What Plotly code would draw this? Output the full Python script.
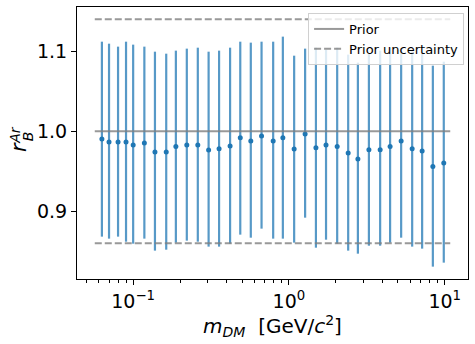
import plotly.graph_objects as go
import numpy as np

# masses (GeV/c^2)
m_dm = [0.063, 0.070, 0.080, 0.090, 0.100, 0.118, 0.138, 0.163, 0.188, 0.221,
        0.260, 0.305, 0.356, 0.419, 0.487, 0.569, 0.667, 0.792, 0.914, 1.08,
        1.27, 1.49, 1.73, 2.04, 2.40, 2.77, 3.26, 3.85, 4.46, 5.25,
        6.18, 7.16, 8.39, 9.86]
# central values of r_B^Ar
r_val = [0.9905, 0.9867, 0.9867, 0.9867, 0.9830, 0.9855, 0.9742, 0.9742, 0.9810, 0.9830,
         0.9830, 0.9767, 0.9784, 0.9817, 0.9921, 0.9880, 0.9942, 0.9880, 0.9921, 0.9780,
         0.9967, 0.9796, 0.9830, 0.9810, 0.9730, 0.9655, 0.9770, 0.9770, 0.9810, 0.9880,
         0.9784, 0.9755, 0.9560, 0.9605]
# upper and lower edges of the error bars
r_hi = [1.1121, 1.1096, 1.1059, 1.1121, 1.1084, 1.1059, 1.0996, 1.0971, 1.1009, 1.1034,
        1.1046, 1.0996, 1.1009, 1.1046, 1.1121, 1.1109, 1.1121, 1.1121, 1.1184, 1.0946,
        1.1034, 1.1046, 1.1021, 1.1046, 1.0959, 1.0859, 1.0971, 1.1009, 1.1046, 1.1034,
        1.0996, 1.0996, 1.0821, 1.0871]
r_lo = [0.8684, 0.8659, 0.8684, 0.8621, 0.8596, 0.8659, 0.8509, 0.8521, 0.8609, 0.8634,
        0.8621, 0.8559, 0.8559, 0.8596, 0.8709, 0.8671, 0.8784, 0.8659, 0.8659, 0.8609,
        0.8921, 0.8546, 0.8646, 0.8596, 0.8509, 0.8471, 0.8571, 0.8571, 0.8609, 0.8671,
        0.8559, 0.8534, 0.8309, 0.8359]

prior = 1.0
prior_unc = 0.14

x_ticks = [0.1, 1, 10]
x_ticktext = ["10<sup>\u22121</sup>", "10<sup>0</sup>", "10<sup>1</sup>"]
y_ticks = [0.9, 1.0, 1.1]
y_ticktext = ["0.9", "1.0", "1.1"]

r_val = np.array(r_val)
err_plus = np.array(r_hi) - r_val
err_minus = r_val - np.array(r_lo)

x_line = [0.9 * m_dm[0], 1.1 * m_dm[-1]]

lx0, lx1 = np.log10(x_line[0]), np.log10(x_line[1])
pad = 0.05 * (lx1 - lx0)
xr = [lx0 - pad, lx1 + pad]
ymin, ymax = min(r_lo), prior + prior_unc
ypad = 0.05 * (ymax - ymin)
yr = [ymin - ypad, ymax + ypad]

minor_vals = [v * d for d in (0.01, 0.1, 1) for v in range(2, 10)] + [20]

fig = go.Figure()
fig.add_trace(go.Scatter(
    x=m_dm, y=r_val, mode="markers",
    marker=dict(color="#1f77b4", size=5),
    error_y=dict(type="data", symmetric=False, array=err_plus, arrayminus=err_minus,
                 color="rgba(31,119,180,0.75)", thickness=2.2, width=0),
    showlegend=False))
fig.add_trace(go.Scatter(
    x=x_line, y=[prior, prior], mode="lines",
    line=dict(color="rgba(128,128,128,0.8)", width=2), name="Prior"))
fig.add_trace(go.Scatter(
    x=x_line, y=[prior + prior_unc] * 2, mode="lines",
    line=dict(color="rgba(128,128,128,0.8)", width=2, dash="7px,3px"), name="Prior uncertainty"))
fig.add_trace(go.Scatter(
    x=x_line, y=[prior - prior_unc] * 2, mode="lines",
    line=dict(color="rgba(128,128,128,0.8)", width=2, dash="7px,3px"), showlegend=False))

font = "DejaVu Sans"
fig.update_layout(
    width=475, height=344,
    margin=dict(l=77, r=7, t=7, b=65),
    paper_bgcolor="white", plot_bgcolor="white",
    font=dict(family=font, color="black", size=16),
    legend=dict(x=0.99, y=0.978, xanchor="right", yanchor="top",
                bgcolor="rgba(255,255,255,0.8)", bordercolor="#d0d0d0", borderwidth=1,
                font=dict(size=13, family=font), tracegroupgap=0, itemwidth=30),
    xaxis=dict(type="log", range=xr, showgrid=False, zeroline=False, automargin=False,
               showline=True, linecolor="black", linewidth=1, mirror=True,
               ticks="outside", ticklen=5, tickcolor="black",
               tickvals=x_ticks, ticktext=x_ticktext, tickfont=dict(size=19),
               minor=dict(tickvals=minor_vals, ticks="outside", ticklen=2.5, tickcolor="black", showgrid=False),
               title=dict(text="<i>m</i><sub><i>DM</i></sub>  [GeV/<i>c</i><sup>2</sup>]",
                          font=dict(size=20), standoff=4)),
    yaxis=dict(range=yr, showgrid=False, zeroline=False, automargin=False,
               showline=True, linecolor="black", linewidth=1, mirror=True,
               ticks="outside", ticklen=5, tickcolor="black",
               tickvals=y_ticks, ticktext=y_ticktext, tickfont=dict(size=19)),
)

# y-axis label r_B^Ar built from pieces
fig.add_annotation(text="<i>r</i>", xref="paper", yref="paper", x=0, y=0.485,
                   xshift=-58, showarrow=False, textangle=-90, font=dict(size=21, family=font),
                   xanchor="center", yanchor="middle")
fig.add_annotation(text="<i>Ar</i>", xref="paper", yref="paper", x=0, y=0.53,
                   xshift=-62, showarrow=False, textangle=-90, font=dict(size=14, family=font),
                   xanchor="center", yanchor="middle")
fig.add_annotation(text="<i>B</i>", xref="paper", yref="paper", x=0, y=0.525,
                   xshift=-49, showarrow=False, textangle=-90, font=dict(size=14, family=font),
                   xanchor="center", yanchor="middle")

fig.write_html("out.html", config={"displayModeBar": False},
               post_script="document.body.style.margin='0';document.body.style.padding='0';")
